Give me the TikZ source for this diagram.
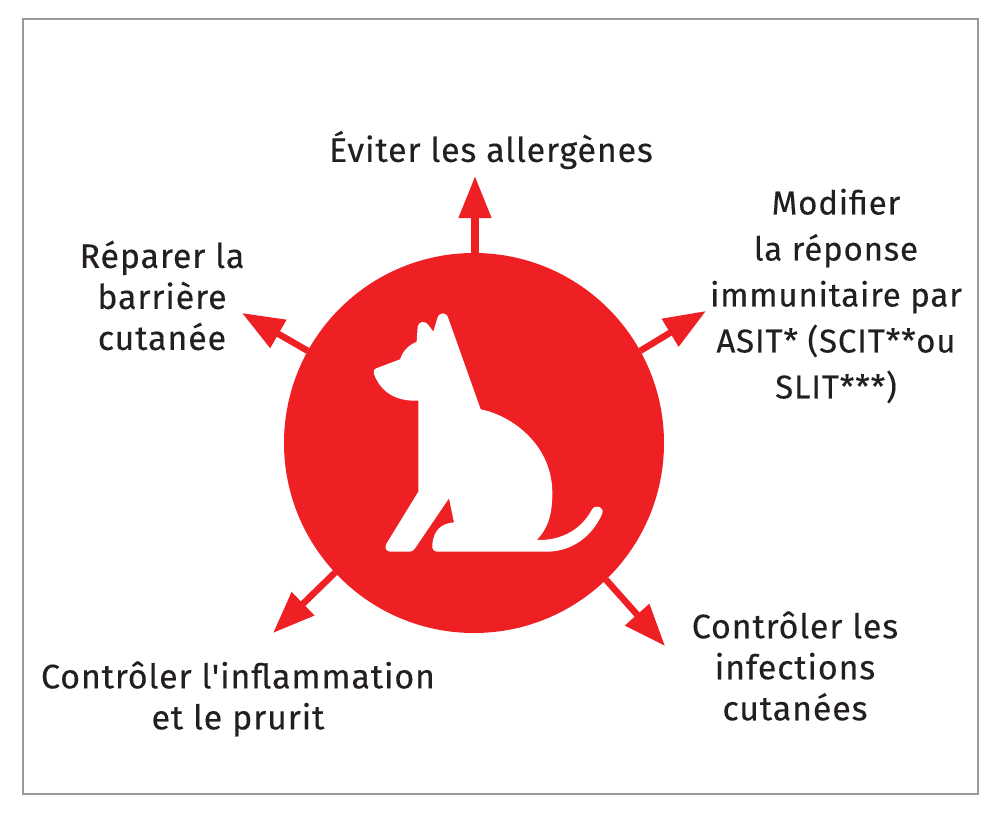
\documentclass[tikz,border=0pt]{standalone}
\usepackage{fontspec}
\setmainfont{Fira Sans}[LetterSpace=2.5,Ligatures=TeXOff,FakeBold=0.25]
\usetikzlibrary{arrows.meta}
\definecolor{chartred}{HTML}{EE2024}
\definecolor{inkc}{HTML}{231F20}
\definecolor{framec}{HTML}{9A9A9A}
\tikzset{
  hubdisc/.style={circle,fill=chartred,minimum size=380pt,inner sep=0pt,outer sep=0pt},
  spoke/.style={draw=chartred,line width=6.5pt,-{Triangle[length=42pt,width=31pt,fill=chartred]}},
  spokeT/.style={spoke,line width=7.5pt},
  lbl/.style={text=inkc,align=center,inner sep=0pt,font=\fontsize{34}{41}\selectfont},
  lblwide/.style={lbl,font=\fontsize{33}{46}\selectfont},
  frameb/.style={draw=framec,line width=2pt}
}
\begin{document}
\begin{tikzpicture}[x=1pt,y=-1pt]
\useasboundingbox (0,0) rectangle (996,816);
\draw[frameb] (23,19) rectangle (978,794);
\node[hubdisc] (hub) at (474,443) {};
\coordinate (tT) at (475,176);
\coordinate (tL) at (242,313);
\coordinate (tR) at (706,311);
\coordinate (tBL) at (273,633);
\coordinate (tBR) at (665,646);
\draw[spokeT] (hub.90) ++(1,3) -- (tT);
\draw[spoke] (hub.151) -- (tL);
\draw[spoke] (hub.29.7) -- (tR);
\draw[spoke] (hub.223.4) -- (tBL);
\draw[spoke] (hub.-46.7) -- (tBR);
\begin{scope}[shift={(350,290)},x=0.33333pt,y=-0.33333pt]
\fill[white] (76,236) -- (150,208) .. controls (155,195) and (165,170) .. (200,155)
  -- (203,110) .. controls (205,95) and (225,90) .. (235,105) -- (250,125)
  -- (262,85) .. controls (267,65) and (290,65) .. (295,85)
  -- (392,358) .. controls (480,375) and (607,460) .. (607,610)
  .. controls (607,680) and (590,720) .. (560,750)
  .. controls (640,752) and (695,715) .. (725,660)
  .. controls (735,640) and (768,650) .. (755,675)
  .. controls (725,740) and (665,785) .. (590,785)
  -- (262,785) .. controls (250,785) and (245,775) .. (247,765)
  .. controls (250,720) and (275,700) .. (312,697)
  -- (297,625) -- (195,775) .. controls (190,783) and (185,785) .. (178,785)
  -- (122,785) .. controls (108,785) and (102,772) .. (110,760)
  -- (205,605) -- (205,332) .. controls (130,335) and (90,300) .. (72,252)
  .. controls (70,244) and (72,238) .. (76,236) -- cycle;
\end{scope}
\node[lbl] (top) at (491,150) {Éviter les allergènes};
\node[lbl] (left) at (162,295.5) {Réparer la\\barrière\\cutanée};
\node[lblwide] (right) at (836,296) {Modifier\\la réponse\\immunitaire par\\ASIT* (SCIT**ou\\SLIT***)};
\node[lbl] (bl) at (238,699) {Contrôler l'inflammation\\et le prurit};
\node[lbl] (br) at (795,666) {Contrôler les\\infections\\cutanées};
\end{tikzpicture}
\end{document}
